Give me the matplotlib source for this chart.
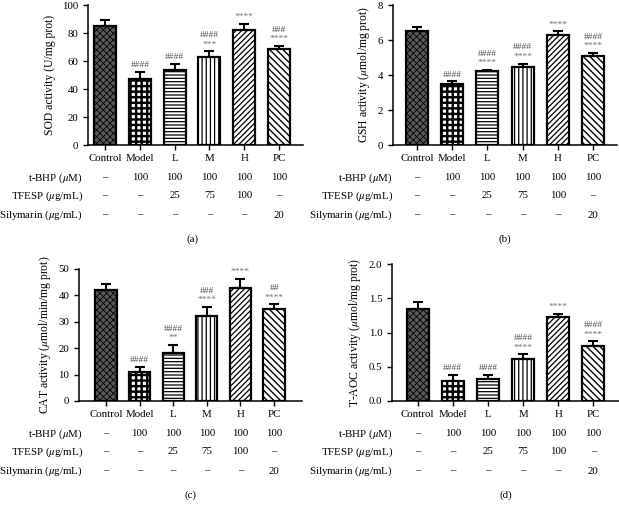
import matplotlib
matplotlib.use("Agg")
import matplotlib.pyplot as plt
from matplotlib.transforms import blended_transform_factory

plt.rcParams["font.family"] = ["Liberation Serif", "DejaVu Serif"]
plt.rcParams["mathtext.fontset"] = "stix"

groups = ["Control", "Model", "L", "M", "H", "PC"]
tbhp = ["–", "100", "100", "100", "100", "100"]
tfesp = ["–", "–", "25", "75", "100", "–"]
silymarin = ["–", "–", "–", "–", "–", "20"]
row_names = [r"t-BHP ($\mu$M)", r"TFESP ($\mu$g/mL)", r"Silymarin ($\mu$g/mL)"]

sod = [85.0, 47.4, 53.6, 62.7, 82.0, 68.7]
sod_err = [4.0, 5.0, 4.1, 4.3, 4.6, 2.1]
gsh = [6.53, 3.48, 4.23, 4.48, 6.30, 5.07]
gsh_err = [0.23, 0.16, 0.06, 0.17, 0.20, 0.19]
cat = [42.0, 10.8, 18.2, 32.1, 42.7, 34.8]
cat_err = [2.2, 2.0, 3.1, 3.5, 3.5, 1.8]
taoc = [1.34, 0.29, 0.32, 0.62, 1.22, 0.81]
taoc_err = [0.11, 0.09, 0.06, 0.06, 0.05, 0.06]

sig_a = [("", ""), ("####", ""), ("####", ""), ("####", "***"), ("", "****"), ("###", "****")]
sig_b = [("", ""), ("####", ""), ("####", "****"), ("####", "****"), ("", "****"), ("####", "****")]
sig_c = [("", ""), ("####", ""), ("####", "**"), ("###", "****"), ("", "****"), ("##", "****")]
sig_d = [("", ""), ("####", ""), ("####", ""), ("####", "****"), ("", "****"), ("####", "****")]

# fill, hatch colour, hatch pattern, hatch linewidth
styles = [
    ("#5a5a5a", "black", "xxxxx", 0.6),
    ("white", "black", "+++", 1.7),
    ("white", "black", "-----", 0.9),
    ("white", "black", "||||", 0.9),
    ("white", "black", "//////", 0.9),
    ("white", "black", "\\\\\\\\\\", 1.0),
]

W, H = 619, 509
fig = plt.figure(figsize=(W / 100, H / 100), dpi=100)


def px_axes(left, right, top, bottom):
    return fig.add_axes([left / W, 1 - bottom / H, (right - left) / W, (bottom - top) / H])


def panel(ax, vals, errs, sigs, ylim, yticks, ylabel, xlim, fmt, bottom_px, label_x, tag):
    x = list(range(len(groups)))
    for i in x:
        fill, hc, hatch, hlw = styles[i]
        b = ax.bar(i, vals[i], width=0.63, color=fill, edgecolor=hc, hatch=hatch,
                   linewidth=0, zorder=2)
        for p in b:
            if hasattr(p, "set_hatch_linewidth"):
                p.set_hatch_linewidth(hlw)
        ax.bar(i, vals[i], width=0.63, facecolor="none", edgecolor="black",
               linewidth=1.6, zorder=3)
    ax.errorbar(x, vals, yerr=[[0] * len(x), errs], fmt="none", ecolor="black",
                elinewidth=1.5, capsize=3.6, capthick=1.5, zorder=1)
    for i in x:
        top = vals[i] + errs[i]
        hashes, stars = sigs[i]
        lines = [s for s in (hashes, stars) if s]
        for k, s in enumerate(reversed(lines)):
            color = "#4a4a4a" if s.startswith("#") else "#707070"
            ax.annotate(s, (i, top), xytext=(0, 2 + 6.8 * k), textcoords="offset points",
                        ha="center", va="bottom", fontsize=6.8, color=color)
    ax.set_xlim(*xlim)
    ax.set_ylim(*ylim)
    ax.set_yticks(yticks)
    ax.set_yticklabels([fmt.format(v) for v in yticks])
    ax.set_xticks(x)
    ax.set_xticklabels(groups)
    ax.tick_params(axis="both", labelsize=7.8, length=3.5, width=1.0, direction="out")
    ax.tick_params(axis="x", pad=3)
    ax.set_ylabel(ylabel, fontsize=8.4, labelpad=4)
    for d in ["right", "top"]:
        ax.spines[d].set_visible(False)
    for d in ["left", "bottom"]:
        ax.spines[d].set_linewidth(1.1)

    tr = blended_transform_factory(ax.transData, fig.transFigure)
    tr_fig = fig.transFigure
    rows = [tbhp, tfesp, silymarin]
    offsets = [33, 51, 70]
    for name, row, off in zip(row_names, rows, offsets):
        yf = 1 - (bottom_px + off) / H
        fig.text(label_x / W, yf, name, ha="right", va="center", fontsize=7.8,
                 transform=tr_fig)
        for i, v in enumerate(row):
            ax.text(i, yf, v, ha="center", va="center", fontsize=7.8, transform=tr)
    ax.text(2.5, 1 - (bottom_px + 94) / H, tag, ha="center", va="center",
            fontsize=7.8, transform=tr)


ax_a = px_axes(88, 303, 5, 145)
panel(ax_a, sod, sod_err, sig_a, (0, 100), [0, 20, 40, 60, 80, 100],
      "SOD activity (U/mg prot)", (-0.49, 5.69), "{:.0f}", 145, 83, "(a)")

ax_b = px_axes(393, 617, 5, 145)
panel(ax_b, gsh, gsh_err, sig_b, (0, 8), [0, 2, 4, 6, 8],
      r"GSH activity ($\mu$mol/mg prot)", (-0.68, 5.68), "{:.0f}", 145, 393, "(b)")

ax_c = px_axes(79, 302, 269, 401)
panel(ax_c, cat, cat_err, sig_c, (0, 50), [0, 10, 20, 30, 40, 50],
      r"CAT activity ($\mu$mol/min/mg prot)", (-0.8, 5.83), "{:.0f}", 401, 83, "(c)")

ax_d = px_axes(392, 619, 264, 401)
panel(ax_d, taoc, taoc_err, sig_d, (0, 2.0), [0.0, 0.5, 1.0, 1.5, 2.0],
      r"T-AOC activity ($\mu$mol/mg prot)", (-0.73, 5.73), "{:.1f}", 401, 393, "(d)")

plt.savefig("out.png", dpi=100)
